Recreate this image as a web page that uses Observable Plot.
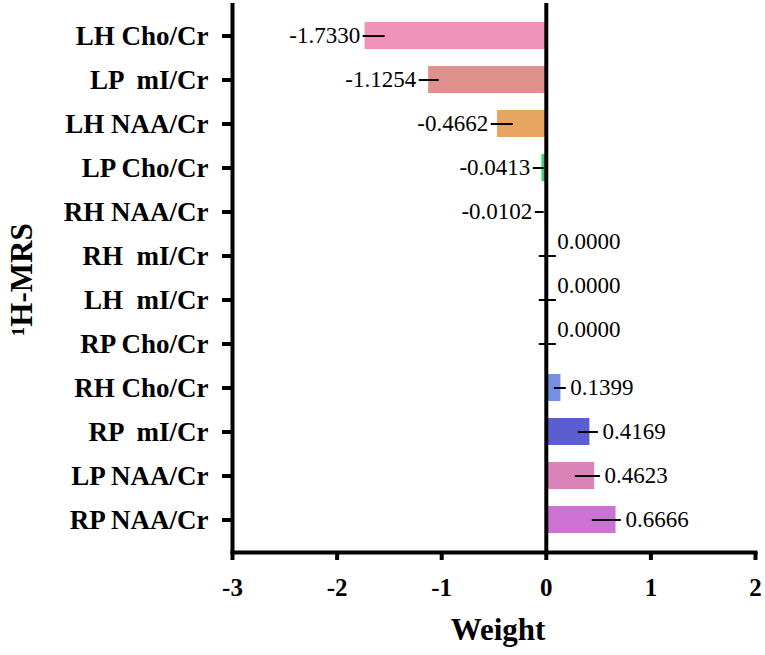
<!DOCTYPE html>
<html>
<head>
<meta charset="utf-8">
<script src="https://cdn.jsdelivr.net/npm/d3@7"></script>
<script src="https://cdn.jsdelivr.net/npm/@observablehq/plot@0.6"></script>
<style>
  html, body { margin: 0; padding: 0; background: #fff; }
  svg text { white-space: pre; }
</style>
</head>
<body>
<div id="chart"></div>
<script>
const categories = ["LH Cho/Cr", "LP  mI/Cr", "LH NAA/Cr", "LP Cho/Cr", "RH NAA/Cr", "RH  mI/Cr",
                    "LH  mI/Cr", "RP Cho/Cr", "RH Cho/Cr", "RP  mI/Cr", "LP NAA/Cr", "RP NAA/Cr"];
const weights = [-1.7330, -1.1254, -0.4662, -0.0413, -0.0102, 0.0000, 0.0000, 0.0000, 0.1399, 0.4169, 0.4623, 0.6666];
const errLow  = [-1.751, -1.215, -0.526, -0.124, -0.105, -0.067, -0.067, -0.067, 0.077, 0.306, 0.278, 0.440];
const errHigh = [-1.541, -1.024, -0.316, -0.020, -0.020, 0.096, 0.096, 0.096, 0.191, 0.498, 0.517, 0.718];
const colors  = ["#F192BA", "#DE918D", "#E6A560", "#3CCF6E", "#9AA0D8", "#9AA0D8",
                 "#9AA0D8", "#9AA0D8", "#7490E2", "#5B5ED0", "#D983B8", "#CB72D2"];
const xTicks = [-3, -2, -1, 0, 1, 2];

const data = categories.map((c, i) => ({cat: c, w: weights[i], lo: errLow[i], hi: errHigh[i], color: colors[i]}));
const neg = data.filter(d => d.w < 0);
const pos = data.filter(d => d.w > 0);
const zero = data.filter(d => d.w === 0);
const fmt = v => v.toFixed(4);

const serif = "'Liberation Serif', 'Times New Roman', serif";

const chart = Plot.plot({
  width: 765,
  height: 655,
  marginTop: 3,
  marginBottom: 103,
  marginLeft: 232,
  marginRight: 10,
  style: {fontFamily: serif, background: "white", color: "black", overflow: "visible"},
  x: {domain: [-3, 2]},
  y: {domain: categories, padding: 0.39},
  marks: [
    Plot.barX(data, {x: "w", y: "cat", fill: "color"}),
    Plot.ruleY(data, {y: "cat", x1: "lo", x2: "hi", stroke: "black", strokeWidth: 2}),
    Plot.ruleX([-3, 0], {stroke: "black", strokeWidth: 4}),
    Plot.frame({anchor: "bottom", stroke: "black", strokeWidth: 4}),
    Plot.text(neg, {x: "lo", y: "cat", text: d => fmt(d.w), textAnchor: "end", dx: -3, fontSize: 23, fill: "black"}),
    Plot.text(pos, {x: "hi", y: "cat", text: d => fmt(d.w), textAnchor: "start", dx: 4, fontSize: 23, fill: "black"}),
    Plot.text(zero, {x: "hi", y: "cat", text: d => fmt(d.w), textAnchor: "start", dx: 1, dy: -14, fontSize: 23, fill: "black"}),
    Plot.axisX({ticks: xTicks, tickFormat: d => String(d), tickSize: 8, tickPadding: 18, strokeWidth: 4,
                fontSize: 25, fontWeight: "bold", label: null}),
    Plot.axisY({tickSize: 10, tickPadding: 14, strokeWidth: 4, fontSize: 27, fontWeight: "bold", label: null}),
    Plot.text(["Weight"], {frameAnchor: "bottom", dy: 78, dx: 4, fontSize: 31, fontWeight: "bold", lineAnchor: "middle"}),
    Plot.text(["\u00B9H-MRS"], {frameAnchor: "left", dx: -210, dy: 58, rotate: -90, fontSize: 31, fontWeight: "bold", lineAnchor: "middle"})
  ]
});
document.getElementById("chart").append(chart);
</script>
</body>
</html>
